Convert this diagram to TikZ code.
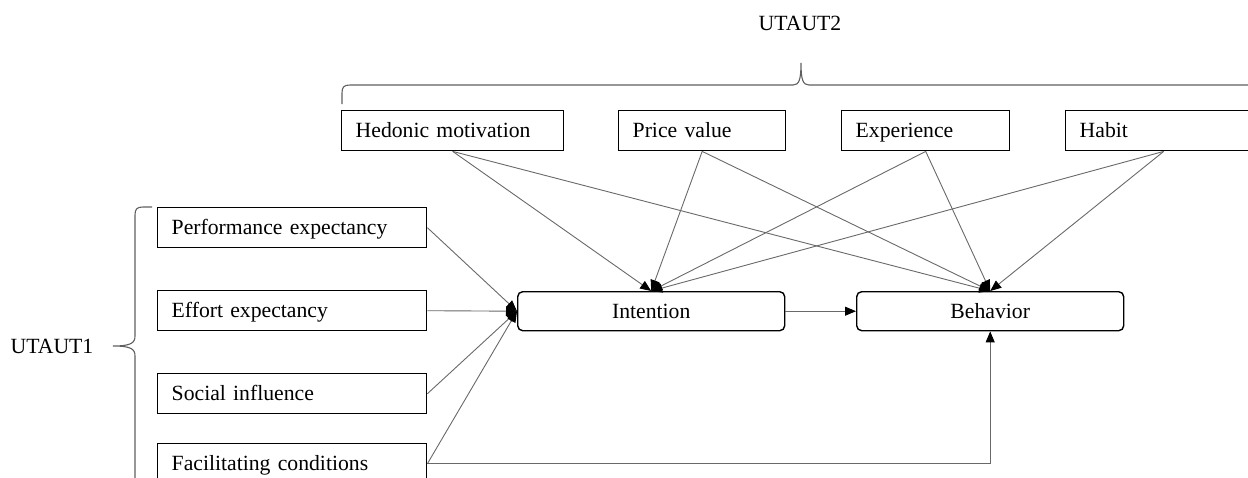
\documentclass[tikz,border=0pt]{standalone}
\usepackage{fontspec}
\setmainfont{Liberation Serif}
\usetikzlibrary{arrows.meta}
\definecolor{lgray}{RGB}{105,105,105}
\definecolor{bgray}{RGB}{95,95,95}
\begin{document}
\begin{tikzpicture}[x=1pt,y=-1pt,
  every node/.style={font=\fontsize{21.7pt}{24pt}\selectfont},
  fbox/.style={draw=black, line width=1.4pt, fill=white, anchor=north west,
    minimum height=40pt, inner ysep=0pt, inner xsep=14pt, align=left,
    text height=17pt, text depth=3pt},
  rbox/.style={draw=black, line width=1.4pt, fill=white, rounded corners=5pt,
    anchor=north west, minimum height=39pt, minimum width=267pt, inner sep=0pt,
    text height=17pt, text depth=3pt},
  conn/.style={draw=lgray, line width=0.9pt,
    -{Triangle[length=11pt,width=9pt,color=black]}},
  bracestyle/.style={draw=bgray, line width=1.1pt},
  lbl/.style={inner sep=0pt}
]
\useasboundingbox (0,0) rectangle (1248,477);
\clip (0,0) rectangle (1248,477);

% labels
\node[lbl] (u2) at (800,23) {UTAUT2};
\node[lbl] (u1) at (52,346) {UTAUT1};

% braces
\draw[bracestyle] (342,104) -- (342,93) .. controls (342,87) and (344,85) .. (350,85)
  -- (793,85) .. controls (799,85) and (801,80) .. (801,63)
  .. controls (801,80) and (803,85) .. (809,85) -- (1262,85);
\draw[bracestyle] (152,207) -- (143,207) .. controls (137,207) and (135,209) .. (135,215)
  -- (135,336) .. controls (135,343) and (131,346) .. (113,346)
  .. controls (131,346) and (135,349) .. (135,356) -- (135,490);

% UTAUT2 boxes
\node[fbox, text width=194pt] (hed) at (341,110) {Hedonic motivation};
\node[fbox, text width=139pt] (pv)  at (618,110) {Price value};
\node[fbox, text width=140pt] (exp) at (841,110) {Experience};
\node[fbox, text width=168pt] (hab) at (1065,110) {Habit};

% UTAUT1 boxes
\node[fbox, text width=241pt] (per) at (157,207) {Performance expectancy};
\node[fbox, text width=241pt] (eff) at (157,290) {Effort expectancy};
\node[fbox, text width=241pt] (soc) at (157,373) {Social influence};
\node[fbox, text width=241pt] (fac) at (157,443) {Facilitating conditions};

% central boxes
\node[rbox] (int) at (517,291) {Intention};
\node[rbox] (beh) at (856,291) {Behavior};

% connectors
\foreach \s in {hed,pv,exp,hab}{
  \draw[conn] (\s.south) -- (int.north);
  \draw[conn] (\s.south) -- (beh.north);
}
\foreach \s in {per,eff,soc,fac}{
  \draw[conn] (\s.east) -- (int.west);
}
\draw[conn] (int.east) -- (beh.west);
\draw[conn] (fac.east) -| (beh.south);
\end{tikzpicture}
\end{document}
